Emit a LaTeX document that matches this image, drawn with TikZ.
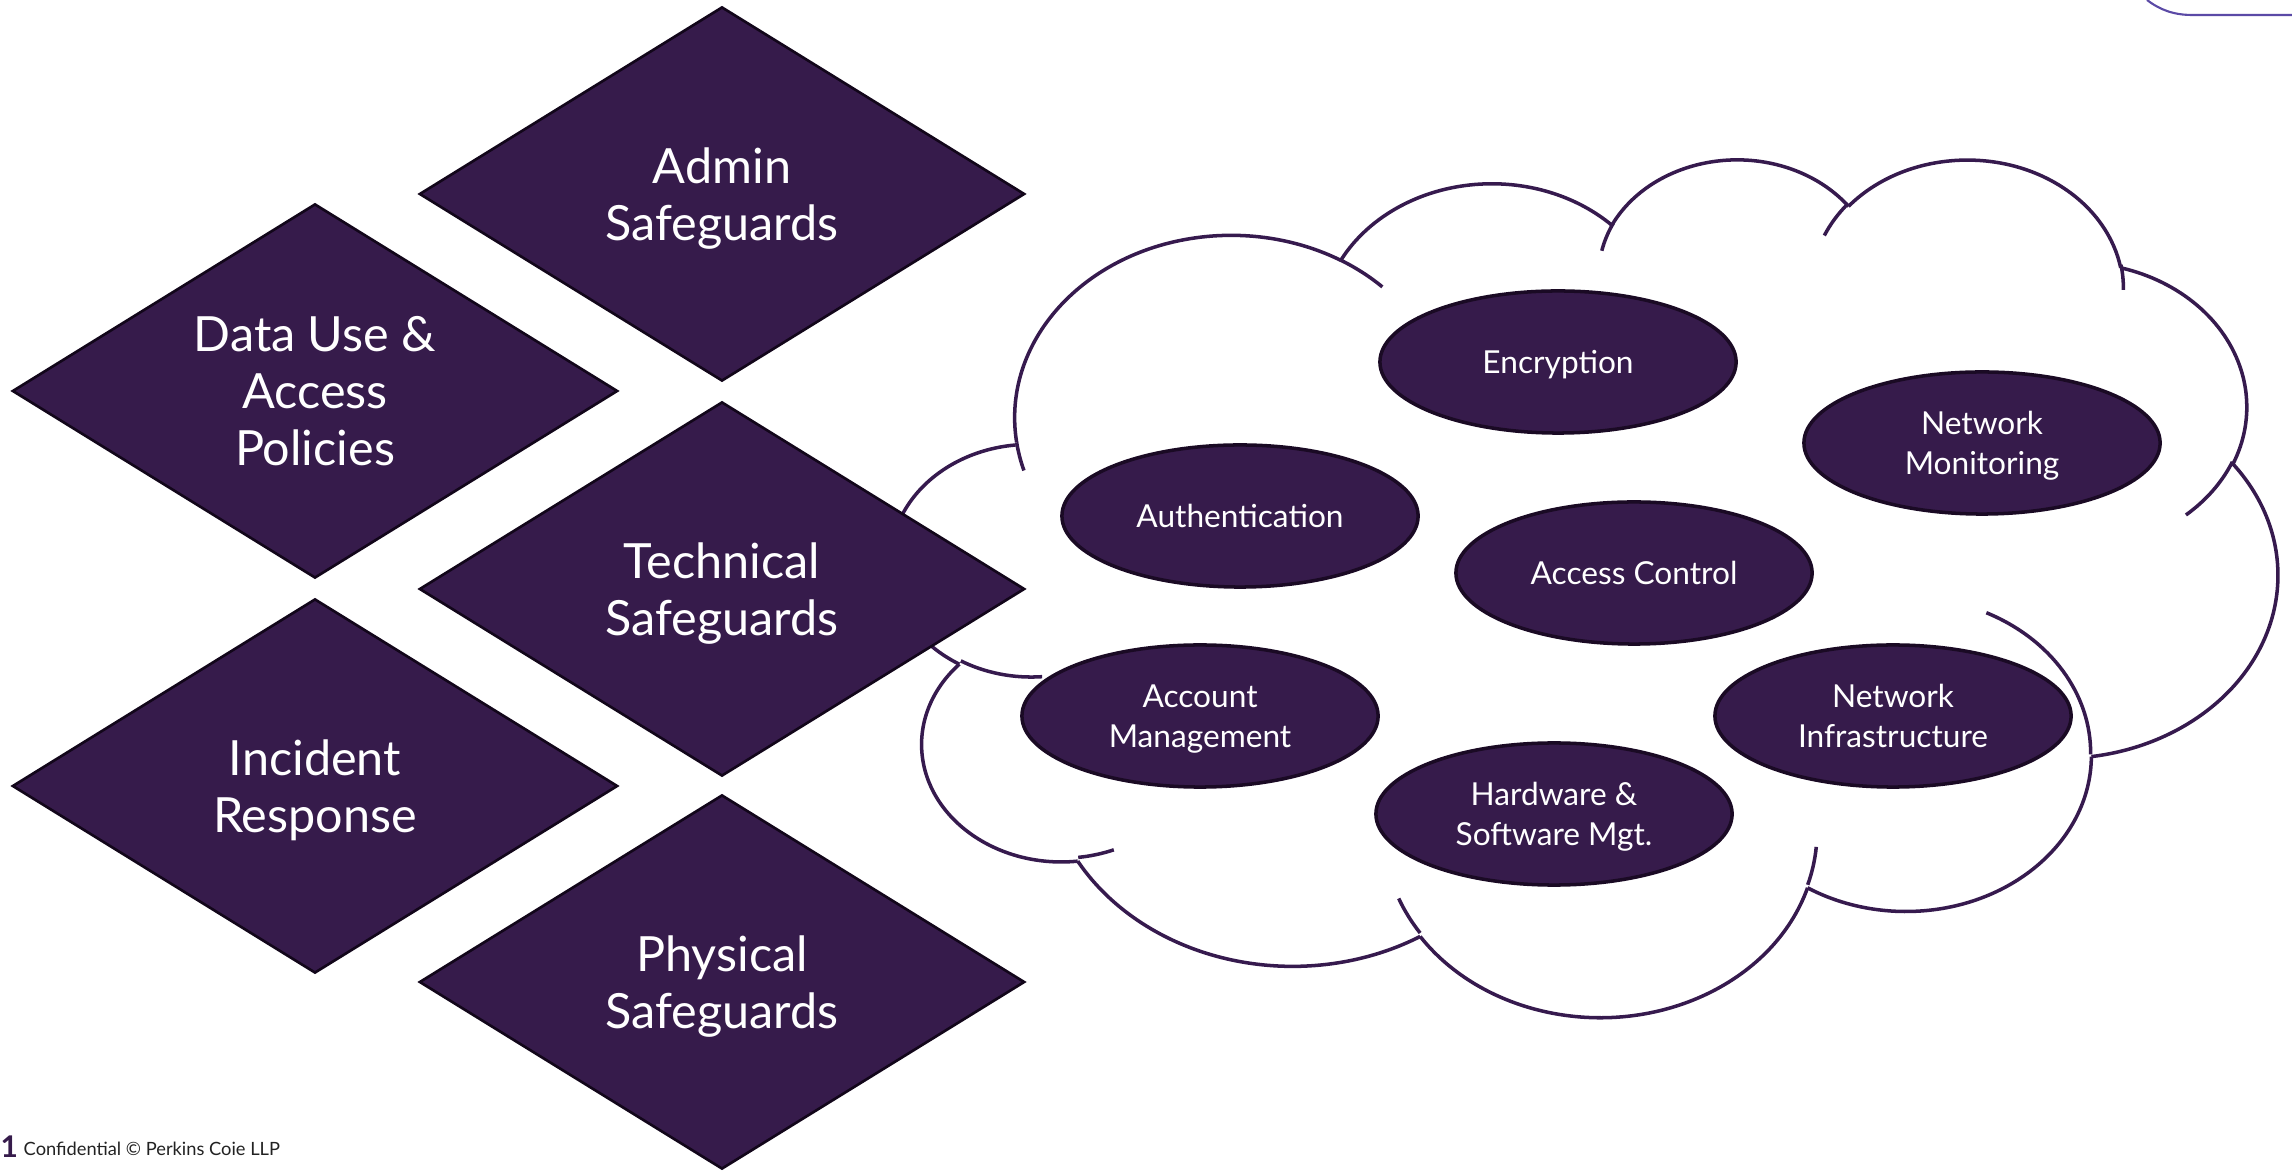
\documentclass[tikz,border=0pt]{standalone}
\usepackage{fontspec}
\setmainfont{Lato}
\usetikzlibrary{shapes.geometric}
\definecolor{purp}{HTML}{361B4B}
\definecolor{diaedge}{HTML}{12061A}
\definecolor{elledge}{HTML}{1A0A24}
\definecolor{cloudc}{HTML}{361A4E}
\definecolor{framec}{HTML}{5B4AA6}
\definecolor{foottext}{HTML}{222222}
% #1 start coordinate, #2 wR, #3 hR, #4 start angle, #5 swing angle, #6 end coordinate name
\newcommand\cloudarc[6]{%
  \pgfmathsetmacro\cA{atan2((#2)*sin(#4),(#3)*cos(#4))}%
  \pgfmathsetmacro\cB{atan2((#2)*sin((#4)+(#5)),(#3)*cos((#4)+(#5)))}%
  \pgfmathsetmacro\cB{ifthenelse(#5>0,ifthenelse(\cB<\cA,\cB+360,\cB),ifthenelse(\cB>\cA,\cB-360,\cB))}%
  \draw[cloudline] (#1) arc[start angle=\cA, end angle=\cB, x radius=#2, y radius=#3] coordinate (#6);%
}
\begin{document}
\begin{tikzpicture}[x=0.01cm,y=-0.01cm,
  cloudline/.style={draw=cloudc, line width=1pt},
  dia/.style={diamond, draw=diaedge, line width=0.75pt, fill=purp, text=white,
    minimum width=6.05cm, minimum height=3.74cm, inner sep=-25pt, align=center,
    text depth=0pt, font=\fontsize{13.8}{16.2}\selectfont},
  ell/.style={ellipse, draw=elledge, line width=1pt, fill=purp, text=white,
    minimum width=3.56cm, minimum height=1.42cm, inner sep=0pt, align=center,
    text depth=0pt, font=\fontsize{9}{11.2}\selectfont}]
\useasboundingbox (0,0) rectangle (2292,1171);

% ---------- cloud ----------
\begin{scope}[shift={(8.91cm,-1.57cm)}, x=0.32060cm, y=-0.19838cm]
  \coordinate (c0) at (3.900,14.370);
  \cloudarc{c0}{6.753}{9.190}{-190.48748}{123.78053}{c1}
  \cloudarc{c1}{5.333}{7.267}{-144.10238}{89.94523}{c2}
  \cloudarc{c2}{4.365}{5.945}{-145.80792}{99.72302}{c3}
  \cloudarc{c3}{4.857}{6.595}{-130.98607}{117.24173}{c4}
  \cloudarc{c4}{5.333}{7.273}{-78.70888}{109.02692}{c5}
  \cloudarc{c5}{6.775}{9.220}{-46.26725}{130.26900}{c6}
  \cloudarc{c6}{5.785}{7.867}{0.62502}{114.03333}{c7}
  \cloudarc{c7}{6.752}{9.215}{22.45160}{115.17255}{c8}
  \cloudarc{c8}{7.720}{10.543}{66.24263}{75.71102}{c9}
  \cloudarc{c9}{4.360}{5.918}{-274.94208}{146.73557}{c10}
  \cloudarc{c10}{4.345}{5.945}{-246.82850}{152.51885}{c11}
  % inner tails
  \coordinate (ia) at (4.693,26.177);
  \cloudarc{ia}{4.345}{5.945}{86.74200}{26.42950}{iae}
  \coordinate (ib) at (6.928,34.899);
  \cloudarc{ib}{4.360}{5.918}{73.61047}{11.44747}{ibe}
  \coordinate (ic) at (16.478,39.090);
  \cloudarc{ic}{6.752}{9.215}{137.62415}{14.08110}{ice}
  \coordinate (id) at (28.827,34.751);
  \cloudarc{id}{6.752}{9.215}{6.45327}{15.99835}{ide}
  \coordinate (ie) at (34.129,22.954);
  \cloudarc{ie}{5.785}{7.867}{-70.29235}{70.91737}{iee}
  \coordinate (if) at (41.798,15.354);
  \cloudarc{if}{5.333}{7.273}{30.31803}{27.75150}{ife}
  \coordinate (ig) at (38.324,5.426);
  \cloudarc{ig}{4.857}{6.595}{-13.74433}{14.85890}{ige}
  \coordinate (ih) at (29.078,3.952);
  \cloudarc{ih}{4.857}{6.595}{-149.18145}{18.19537}{ihe}
  \coordinate (ii) at (22.141,4.720);
  \cloudarc{ii}{4.365}{5.945}{-163.49427}{17.68635}{iie}
  \coordinate (ij) at (14.000,5.192);
  \cloudarc{ij}{6.753}{9.190}{-66.70695}{12.31935}{ije}
  \coordinate (ik) at (4.127,15.789);
  \cloudarc{ik}{6.753}{9.190}{157.65435}{11.85817}{ike}
\end{scope}

% ---------- ellipses ----------
\node[ell] (enc) at (1558,362) {Encryption};
\node[ell] (netmon) at (1982,443) {Network\\Monitoring};
\node[ell] (auth) at (1240,516) {Authentication};
\node[ell] (acc) at (1634,573) {Access Control};
\node[ell] (acct) at (1200,716) {Account\\Management};
\node[ell] (netinf) at (1893,716) {Network\\Infrastructure};
\node[ell] (hw) at (1554,814) {Hardware \&\\Software Mgt.};

% ---------- diamonds ----------
\node[dia] (admin) at (722,194) {Admin\\Safeguards};
\node[dia] (datause) at (315,391) {Data Use \&\\Access\\Policies};
\node[dia] (tech) at (722,589) {Technical\\Safeguards};
\node[dia] (incident) at (315,786) {Incident\\Response};
\node[dia] (physical) at (722,982) {Physical\\Safeguards};

% ---------- top-right frame fragment ----------
\coordinate (fr0) at (2147,0);
\coordinate (fr1) at (2192,15);
\coordinate (fr2) at (2292,15);
\draw[framec, line width=0.6pt] (fr0) .. controls (2160,10) and (2174,15) .. (fr1) -- (fr2);

% ---------- footer ----------
\node[anchor=west, inner sep=0pt, text=purp, font=\fontsize{8.5}{9}\bfseries\selectfont] (pnum) at (0,1147) {1};
\node[anchor=west, inner sep=0pt, text=foottext, font=\fontsize{5.2}{6}\selectfont] (conf) at (23,1149) {Confidential © Perkins Coie LLP};
\end{tikzpicture}
\end{document}
